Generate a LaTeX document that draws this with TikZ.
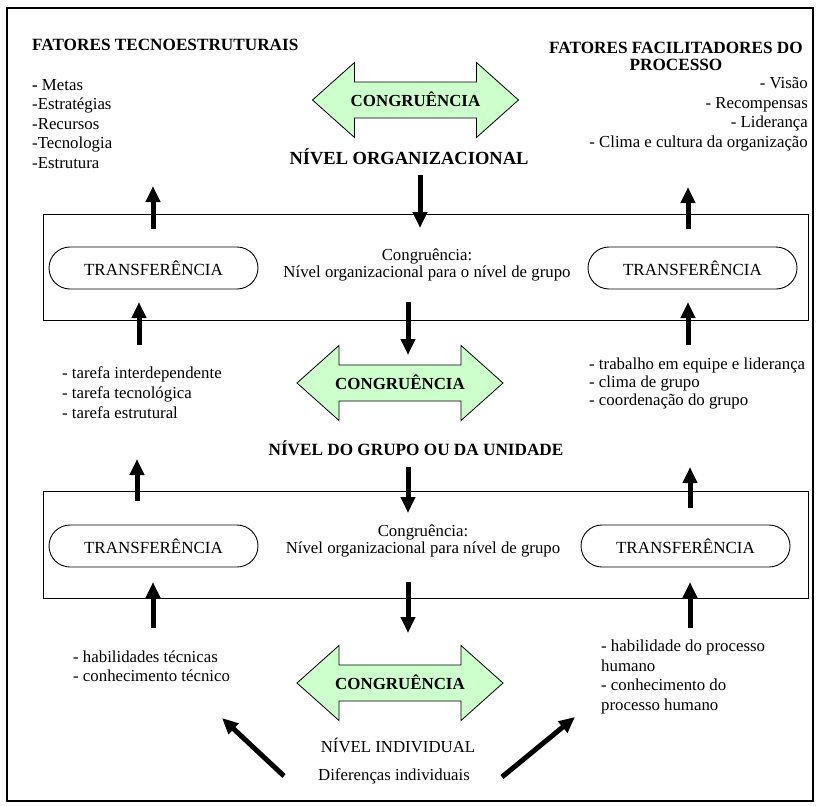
\documentclass[tikz,border=0pt]{standalone}
\usepackage{fontspec}
\setmainfont{Liberation Serif}
\usetikzlibrary{arrows.meta,shapes.misc}
\definecolor{paleGreen}{RGB}{204,255,204}
\tikzset{
  txt/.style={inner sep=0pt, font=\fontsize{16.8}{19.5}\selectfont},
  bold/.style={inner sep=0pt, font=\fontsize{17.2}{17}\selectfont\bfseries},
  transfer/.style={draw, line width=0.9pt, rounded rectangle, minimum width=209pt,
    minimum height=42pt, inner sep=0pt, font=\fontsize{17}{19}\selectfont},
  levelbox/.style={draw, line width=0.9pt},
  flow/.style={line width=5pt, -{Triangle[length=16pt,width=14pt]}},
  congr/.style={draw, line width=0.8pt, fill=paleGreen},
}
% double-headed "congruence" arrow centred at (#1,#2)
\newcommand{\congrArrow}[3]{%
  \draw[congr] (#1-103,#2) -- (#1-61,#2-37.5) -- (#1-61,#2-18) -- (#1+61,#2-18)
    -- (#1+61,#2-37.5) -- (#1+103,#2) -- (#1+61,#2+37.5) -- (#1+61,#2+18)
    -- (#1-61,#2+18) -- (#1-61,#2+37.5) -- cycle;
  \node[bold, font=\fontsize{16.9}{17}\selectfont\bfseries] (#3) at (#1,#2-1) {CONGRUÊNCIA};}
\begin{document}
\begin{tikzpicture}[x=1pt,y=-1pt]
\useasboundingbox (0,0) rectangle (817,806);
\fill[white] (0,0) rectangle (817,806);
\draw[line width=1.4pt] (7,8) rectangle (813,801);

% ---------- organisational level ----------
\node[bold, anchor=west] (tecTitle) at (32,45) {FATORES TECNOESTRUTURAIS};
\node[txt, anchor=west, align=left] (tecList) at (32,124)
  {\textbf{-} Metas\\-Estratégias\\-Recursos\\-Tecnologia\\-Estrutura};
\node[bold, align=center] (facTitle) at (676,56) {FATORES FACILITADORES DO\\PROCESSO};
\node[txt, anchor=east, align=right] (facList) at (808,114)
  {- Visão\\- Recompensas\\- Liderança\\- Clima e cultura da organização};
\congrArrow{415.5}{100}{congrOrg}
\node[bold, font=\fontsize{18.5}{19}\selectfont\bfseries] (orgLevel) at (409,157) {NÍVEL ORGANIZACIONAL};

% first transfer box
\node[levelbox, minimum width=765pt, minimum height=106pt, inner sep=0pt] (boxA) at (425.5,267) {};
\node[transfer] (trA1) at (153.5,268) {TRANSFERÊNCIA};
\node[transfer] (trA2) at (692.5,268) {TRANSFERÊNCIA};
\node[txt, align=center, font=\fontsize{16.8}{17}\selectfont] (congA) at (427,265)
  {Congruência:\\Nível organizacional para o nível de grupo};

\coordinate (a1s) at (153,229);  \coordinate (a1e) at (153,186);
\coordinate (a2s) at (420,175);  \coordinate (a2e) at (420,228);
\coordinate (a3s) at (688,229);  \coordinate (a3e) at (688,187);
\coordinate (a4s) at (139,345);  \coordinate (a4e) at (139,302);
\coordinate (a5s) at (408,302);  \coordinate (a5e) at (408,355);
\coordinate (a6s) at (688,345);  \coordinate (a6e) at (688,302);
\foreach \i in {1,...,6} \draw[flow] (a\i s) -- (a\i e);

% ---------- group level ----------
\node[txt, anchor=west, align=left, font=\fontsize{16.8}{20}\selectfont] (grpTec) at (62,393)
  {- tarefa interdependente\\- tarefa tecnológica\\- tarefa estrutural};
\node[txt, anchor=west, align=left, font=\fontsize{16.8}{18}\selectfont] (grpFac) at (589,383)
  {- trabalho em equipe e liderança\\- clima de grupo\\- coordenação do grupo};
\congrArrow{400}{383}{congrGrp}
\node[bold] (grpLevel) at (416,448) {NÍVEL DO GRUPO OU DA UNIDADE};

% second transfer box
\node[levelbox, minimum width=765pt, minimum height=107pt, inner sep=0pt] (boxB) at (425.5,544.5) {};
\node[transfer] (trB1) at (153.5,546) {TRANSFERÊNCIA};
\node[transfer] (trB2) at (685.5,546) {TRANSFERÊNCIA};
\node[txt, align=center, font=\fontsize{16.8}{17}\selectfont] (congB) at (423,541)
  {Congruência:\\Nível organizacional para nível de grupo};

\coordinate (b1s) at (137,501);  \coordinate (b1e) at (137,459);
\coordinate (b2s) at (408,467);  \coordinate (b2e) at (408,513);
\coordinate (b3s) at (690,508);  \coordinate (b3e) at (690,467);
\coordinate (b4s) at (153,628);  \coordinate (b4e) at (153,582);
\coordinate (b5s) at (408,582);  \coordinate (b5e) at (408,633);
\coordinate (b6s) at (690,628);  \coordinate (b6e) at (690,582);
\foreach \i in {1,...,6} \draw[flow] (b\i s) -- (b\i e);

% ---------- individual level ----------
\node[txt, anchor=west, align=left] (indTec) at (73,666)
  {- habilidades técnicas\\- conhecimento técnico};
\node[txt, anchor=west, align=left] (indFac) at (601,677)
  {- habilidade do processo\\humano\\- conhecimento do\\processo humano};
\congrArrow{400}{683}{congrInd}
\node[txt] (indLevel) at (398,745) {NÍVEL INDIVIDUAL};
\node[txt] (indDiff) at (394,776) {Diferenças individuais};

\coordinate (d1s) at (284,776);  \coordinate (d1e) at (222,718);
\coordinate (d2s) at (502,777);  \coordinate (d2e) at (575,717);
\draw[flow] (d1s) -- (d1e);
\draw[flow] (d2s) -- (d2e);
\end{tikzpicture}
\end{document}
